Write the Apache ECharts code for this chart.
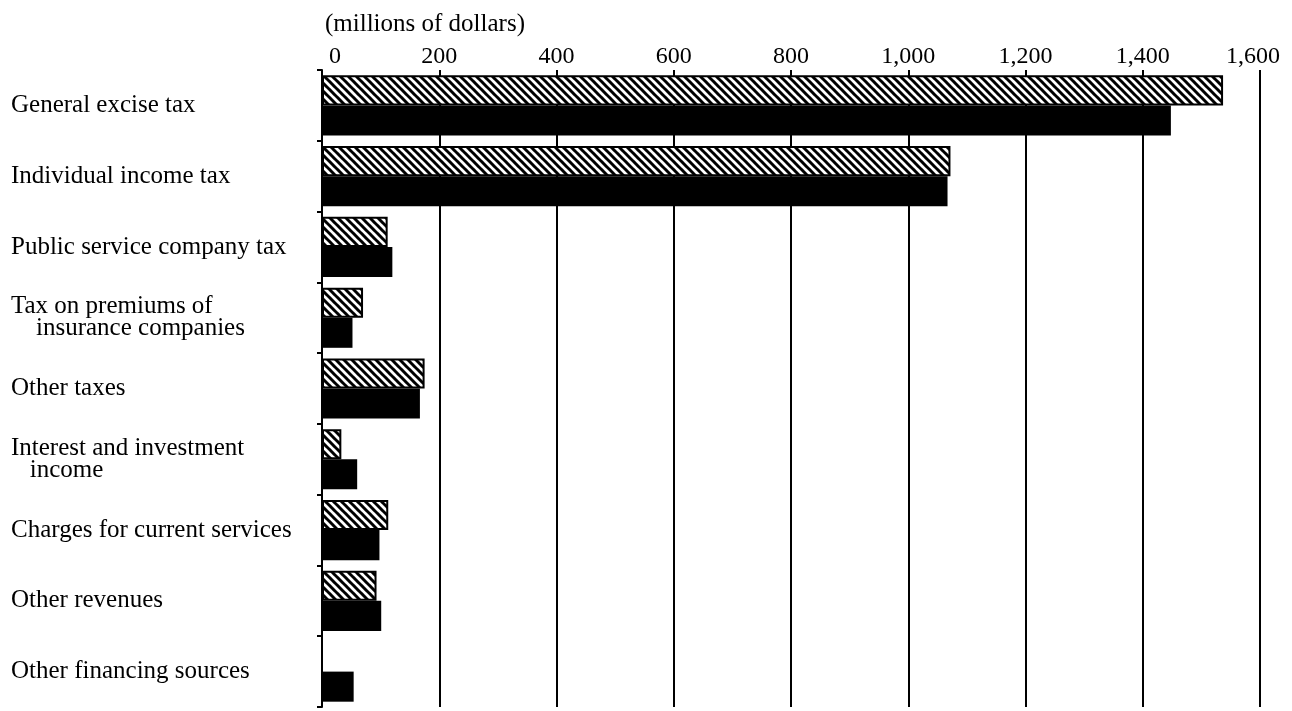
<!DOCTYPE html>
<html>
<head>
<meta charset="utf-8">
<script src="https://cdn.jsdelivr.net/npm/echarts@6/dist/echarts.min.js"></script>
<style>
html,body{margin:0;padding:0;background:#fff;}
#chart{width:1292px;height:711px;}
</style>
</head>
<body>
<div id="chart"></div>
<script>
const categories = [
  'General excise tax',
  'Individual income tax',
  'Public service company tax',
  'Tax on premiums of\n\u00a0\u00a0\u00a0\u00a0insurance companies',
  'Other taxes',
  'Interest and investment\n\u00a0\u00a0\u00a0income',
  'Charges for current services',
  'Other revenues',
  'Other financing sources'
];
const hatchedValues = [1537, 1072, 112, 70, 175, 33, 113, 93, null];
const solidValues = [1448, 1067, 120, 52, 167, 60, 98, 101, 54];
const xMin = 0, xMax = 1600, xStep = 200;
const axisTitle = '(millions of dollars)';

function makeHatch() {
  const s = 8;
  const c = document.createElement('canvas');
  c.width = s; c.height = s;
  const ctx = c.getContext('2d');
  ctx.fillStyle = '#fff';
  ctx.fillRect(0, 0, s, s);
  ctx.strokeStyle = '#000';
  ctx.lineWidth = 3;
  for (let x = -s; x <= s; x += s) {
    ctx.beginPath();
    ctx.moveTo(x - 1, -1);
    ctx.lineTo(x + s + 1, s + 1);
    ctx.stroke();
  }
  return c;
}

const serif = '"Liberation Serif", "DejaVu Serif", serif';
const chart = echarts.init(document.getElementById('chart'), null, {renderer: 'canvas'});
chart.setOption({
  backgroundColor: '#fff',
  animation: false,
  title: {
    text: axisTitle,
    left: 325, top: 12, padding: 0,
    textStyle: {fontFamily: serif, fontSize: 25, fontWeight: 'normal', color: '#000'}
  },
  grid: {left: 322, right: 32, top: 70, bottom: 4, containLabel: false},
  xAxis: {
    type: 'value', position: 'top',
    min: xMin, max: xMax, interval: xStep,
    axisLine: {show: false},
    axisTick: {show: false},
    splitLine: {show: true, lineStyle: {color: '#000', width: 2}},
    axisLabel: {
      fontFamily: serif, fontSize: 24, color: '#000', margin: 1,
      formatter: v => {
        const t = v.toLocaleString('en-US');
        if (v === xMin) return '{first|' + t + '}';
        if (v === xMax) return '{last|' + t + '}';
        return t;
      },
      rich: {
        first: {fontFamily: serif, fontSize: 24, color: '#000', padding: [0, 0, 0, 26]},
        last: {fontFamily: serif, fontSize: 24, color: '#000', padding: [0, 14, 0, 0]}
      }
    }
  },
  yAxis: {
    type: 'category', inverse: true, data: categories,
    axisLine: {show: true, lineStyle: {color: '#000', width: 2}},
    axisTick: {show: true, length: 5, lineStyle: {color: '#000', width: 2}},
    axisLabel: {
      align: 'left', margin: 311,
      fontFamily: serif, fontSize: 25, color: '#000', lineHeight: 22
    }
  },
  series: [
    {
      name: 'Hatched', type: 'bar', data: hatchedValues,
      barGap: '0%', barCategoryGap: '15%',
      itemStyle: {color: {image: makeHatch(), repeat: 'repeat'}, borderColor: '#000', borderWidth: 2}
    },
    {
      name: 'Solid', type: 'bar', data: solidValues,
      barGap: '0%', barCategoryGap: '15%',
      itemStyle: {color: '#000'}
    }
  ]
});
</script>
</body>
</html>
